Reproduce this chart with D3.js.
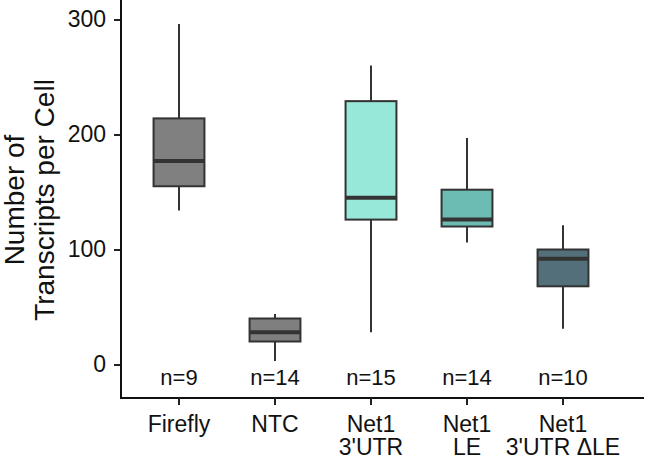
<!DOCTYPE html>
<html>
<head>
<meta charset="utf-8">
<script src="https://cdn.jsdelivr.net/npm/d3@7"></script>
<style>
  body { margin: 0; background: #fff; }
  text { font-family: "Liberation Sans", Arial, Helvetica, sans-serif; fill: #111; }
</style>
</head>
<body>
<div id="chart"></div>
<script>
var width = 648;
var height = 459;

// categories (each label may wrap onto two lines)
var categories = ["Firefly", "NTC", "Net1 3'UTR", "Net1 LE", "Net1 3'UTR ΔLE"];
var labelLines = [["Firefly"], ["NTC"], ["Net1", "3'UTR"], ["Net1", "LE"], ["Net1", "3'UTR ΔLE"]];

// box statistics
var whiskerLow = [134, 3, 28, 106, 31];
var q1 = [155, 20, 126, 120, 68];
var median = [177, 28, 145, 126, 92];
var q3 = [214, 40, 229, 152, 100];
var whiskerHigh = [296, 44, 260, 197, 121];
var counts = [9, 14, 15, 14, 10];
var fills = ["#808080", "#7f7f7f", "#98e8d9", "#6dbcb3", "#536f7a"];
var yTicks = [0, 100, 200, 300];

var data = categories.map(function(c, i) {
    return {
        cat: c, lines: labelLines[i], lo: whiskerLow[i], q1: q1[i], med: median[i],
        q3: q3[i], hi: whiskerHigh[i], n: counts[i], fill: fills[i]
    };
});

var svg = d3.select("#chart").append("svg")
    .attr("width", width)
    .attr("height", height);

var axisX0 = 121, axisX1 = 644, axisY = 398;

var x = d3.scalePoint().domain(categories).range([179, 563]);
var y = d3.scaleLinear().domain([0, 300]).range([364.5, 19.5]);
var boxW = x.step() * 0.53;

// y axis
var yAxis = svg.append("g")
    .attr("transform", "translate(" + axisX0 + ",0)")
    .call(d3.axisLeft(y).tickValues(yTicks).tickSize(7).tickPadding(8));
yAxis.select(".domain").remove();
yAxis.selectAll(".tick line").attr("stroke", "#222").attr("stroke-width", 2);
yAxis.selectAll(".tick text")
    .style("font-size", "23px")
    .attr("fill", "#111");
svg.append("line")
    .attr("x1", axisX0).attr("x2", axisX0)
    .attr("y1", 0).attr("y2", axisY)
    .attr("stroke", "#111").attr("stroke-width", 2);

// x axis
svg.append("line")
    .attr("x1", axisX0 - 1).attr("x2", axisX1)
    .attr("y1", axisY).attr("y2", axisY)
    .attr("stroke", "#111").attr("stroke-width", 2);

var xTicks = svg.selectAll(".xtick")
    .data(data)
    .enter().append("g")
    .attr("class", "xtick")
    .attr("transform", d => "translate(" + x(d.cat) + "," + axisY + ")");
xTicks.append("line")
    .attr("y1", 0).attr("y2", 7)
    .attr("stroke", "#222").attr("stroke-width", 2);
var xLabel = xTicks.append("text")
    .attr("text-anchor", "middle")
    .style("font-size", "23px");
xLabel.selectAll("tspan")
    .data(d => d.lines)
    .enter().append("tspan")
    .attr("x", 0)
    .attr("y", (d, i) => 34 + i * 23)
    .text(d => d);

// boxes
var g = svg.selectAll(".box")
    .data(data)
    .enter().append("g")
    .attr("class", "box");

g.append("line")
    .attr("x1", d => x(d.cat)).attr("x2", d => x(d.cat))
    .attr("y1", d => y(d.hi)).attr("y2", d => y(d.q3))
    .attr("stroke", "#333").attr("stroke-width", 2);
g.append("line")
    .attr("x1", d => x(d.cat)).attr("x2", d => x(d.cat))
    .attr("y1", d => y(d.q1)).attr("y2", d => y(d.lo))
    .attr("stroke", "#333").attr("stroke-width", 2);
g.append("rect")
    .attr("x", d => x(d.cat) - boxW / 2)
    .attr("width", boxW)
    .attr("y", d => y(d.q3))
    .attr("height", d => y(d.q1) - y(d.q3))
    .attr("fill", d => d.fill)
    .attr("stroke", "#333").attr("stroke-width", 2);
g.append("line")
    .attr("x1", d => x(d.cat) - boxW / 2).attr("x2", d => x(d.cat) + boxW / 2)
    .attr("y1", d => y(d.med)).attr("y2", d => y(d.med))
    .attr("stroke", "#333").attr("stroke-width", 4);

// sample sizes
g.append("text")
    .attr("x", d => x(d.cat))
    .attr("y", y(-17.5))
    .attr("text-anchor", "middle")
    .style("font-size", "22px")
    .text(d => "n=" + d.n);

// y title
var title = svg.append("text")
    .attr("transform", "translate(24,200) rotate(-90)")
    .attr("text-anchor", "middle")
    .style("font-size", "28px");
title.append("tspan").attr("x", 0).attr("y", 0).text("Number of");
title.append("tspan").attr("x", 0).attr("y", 30).text("Transcripts per Cell");
</script>
</body>
</html>
